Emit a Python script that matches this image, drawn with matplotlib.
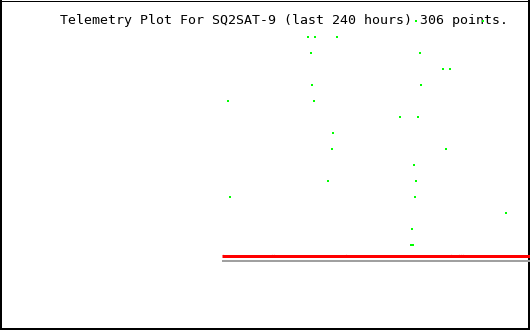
import matplotlib
matplotlib.use("Agg")
import matplotlib.pyplot as plt
from matplotlib.lines import Line2D

title = "Telemetry Plot For SQ2SAT-9 (last 240 hours) 306 points."

# green telemetry samples: hours ago axis (0..240) and level
green_hours = [188.4, 218.7, 139.5, 142.6, 152.6, 140.8, 190.2, 200.6, 203.8,
               141.3, 190.6, 103.2, 142.2, 181.1, 189.3, 150.8, 150.3, 202.0,
               187.5, 148.5, 188.4, 104.2, 187.9, 229.1, 186.6, 186.1, 187.0]
green_level = [15, 15, 14, 14, 14, 13, 13, 12, 12,
               11, 11, 10, 10, 9, 9, 8, 7, 7,
               6, 5, 5, 4, 4, 3, 2, 1, 1]

# red baseline series
red_hours = [100.5, 240.0]
red_level = [0.28, 0.28]
red_bump_hours = [101.0, 123.2, 124.1, 156.7, 204.2, 207.8, 208.7, 209.6]
red_bump_level = [0.36] * len(red_bump_hours)

# gray reference line
gray_hours = [100.5, 240.0]
gray_level = [0.0, 0.0]

W, H = 530, 330
fig = plt.figure(figsize=(W / 100, H / 100), dpi=100)
ax = fig.add_axes([0, 0, 1, 1])
ax.set_xlim(0, 240)
ax.set_ylim((260.5 - 330) / 16, 260.5 / 16)
ax.axis("off")

px = 0.72  # points per pixel
ax.plot(gray_hours, gray_level, color="#a0a0a0", lw=2 * px, solid_capstyle="butt")
ax.plot(red_hours, red_level, color="#ff0000", lw=3 * px, solid_capstyle="butt")
ax.plot(red_bump_hours, red_bump_level, ls="none", marker="s", ms=1.2 * px,
        mew=0, color="#ff0000")

fig.text(60 / W, 1 - 24 / H, title, family="DejaVu Sans Mono", fontsize=9.55,
         color="black", ha="left", va="baseline", zorder=1)

ax.set_zorder(2)
ax.patch.set_visible(False)
ax.plot(green_hours, green_level, ls="none", marker="s", ms=2.0 * px,
        mew=0, color="#00ff00")

# border
def fl(x0, y0, x1, y1, w):
    fig.add_artist(Line2D([x0 / W, x1 / W], [1 - y0 / H, 1 - y1 / H],
                          color="black", lw=w * px, solid_capstyle="projecting"))

fl(1, 0.5, 1, 329, 2)
fl(529, 0.5, 529, 329, 2)
fl(1, 329, 529, 329, 2)
fl(1, 0.5, 529, 0.5, 1)

fig.savefig("out.png", dpi=100)
